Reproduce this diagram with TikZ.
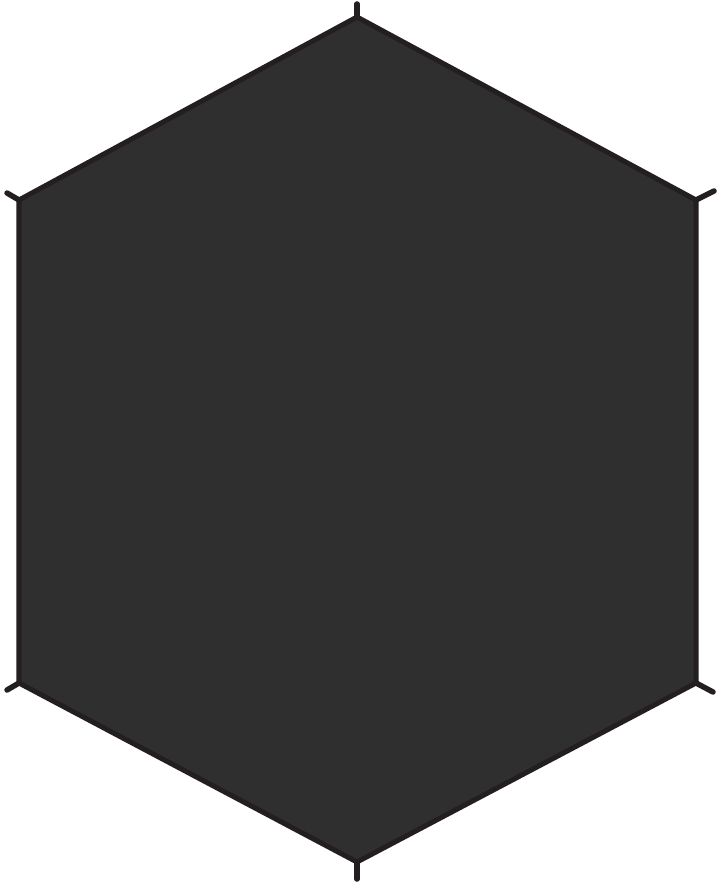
\documentclass[tikz,border=0pt]{standalone}
\usepackage{tikz}
\usetikzlibrary{calc,positioning}

\definecolor{sheetfill}{HTML}{2F2F2F}
\definecolor{sheetedge}{HTML}{231F20}

\begin{document}
\begin{tikzpicture}[x=.01cm, y=-.01cm,
					edge/.style={draw=sheetedge, line width=.05cm, line join=round},
					tab/.style={draw=sheetedge, line width=.055cm, line cap=round}
				]
				\useasboundingbox (0,0) rectangle (720,888);
				% corners of the footprint
				\coordinate (T) at (357,17);
				\coordinate (UR) at (696,200);
				\coordinate (LR) at (696,683);
				\coordinate (B) at (357,862);
				\coordinate (LL) at (19,683);
				\coordinate (UL) at (19,200);
				% loose ends of the tabs
				\coordinate (Tt) at (357,4);
				\coordinate (URt) at (714,191);
				\coordinate (LRt) at (713,692);
				\coordinate (Bt) at (357,879);
				\coordinate (LLt) at (7,690);
				\coordinate (ULt) at (7,193);
				
				\fill[sheetfill] (T) -- (UR) -- (LR) -- (B) -- (LL) -- (UL) -- cycle;
				\foreach \c in {T,UR,LR,B,LL,UL}
					\draw[tab] (\c) -- (\c t);
				\path[edge] (T) -- (UR) -- (LR) -- (B) -- (LL) -- (UL) -- cycle;
			\end{tikzpicture}
\end{document}
